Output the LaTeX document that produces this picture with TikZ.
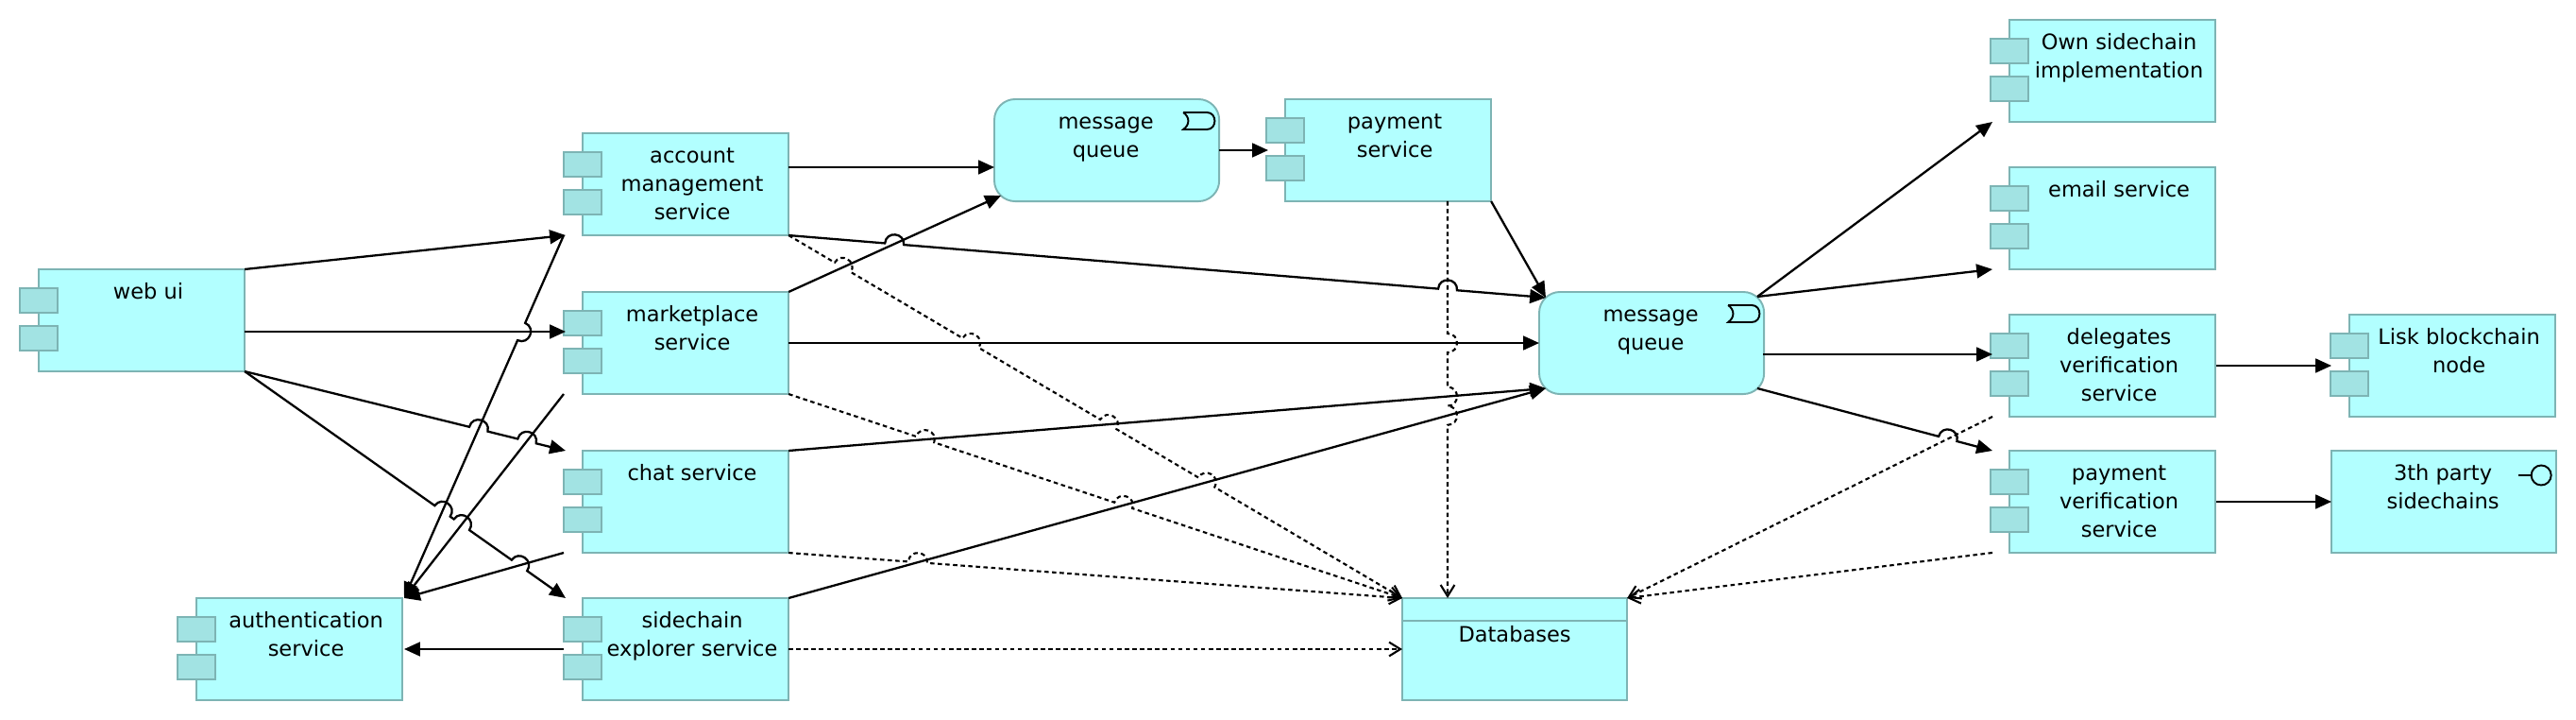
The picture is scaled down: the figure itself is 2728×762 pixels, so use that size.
\documentclass[tikz,border=0pt]{standalone}
\usepackage{fontspec}
\setmainfont{DejaVu Sans}
\usetikzlibrary{arrows.meta,calc}

\definecolor{bodycol}{HTML}{B2FFFF}
\definecolor{tabcol}{HTML}{A2E3E3}
\definecolor{edgecol}{HTML}{7DB4B4}

\tikzset{
	body/.style={draw=edgecol, fill=bodycol, line width=0.55pt, minimum width=2.18cm, minimum height=1.08cm, outer sep=0pt, inner sep=0pt, anchor=north west},
	comptab/.style={draw=edgecol, fill=tabcol, line width=0.55pt, minimum width=0.4cm, minimum height=0.26cm, outer sep=0pt, inner sep=0pt, anchor=north west},
	boxtext/.style={font=\fontsize{6.4}{8.5}\selectfont, align=center, anchor=north, inner sep=0pt},
	icon/.style={draw=black, line width=0.55pt},
	conn/.style={draw=black, line width=0.65pt, -{Triangle[length=4.8pt,width=4.2pt]}},
	dep/.style={draw=black, line width=0.6pt, dash pattern=on 1.3pt off 1pt, -{Straight Barb[length=3.4pt,width=4.2pt]}}
}

\newcommand{\hopr}{0.1cm}
\newcommand{\hoph}{0.133cm}

% line from #2 to #3 that hops over others at the fractions #4
\newcommand{\hopline}[4]{
	\draw[#1] (#2) \foreach \hopat in {#4} {
		-- ($(#2)!\hopat!(#3)!-\hopr!(#3)$)
		.. controls ($(#2)!\hopat!(#3)!-\hopr!(#3)!\hoph!90:(#3)$) and ($(#2)!\hopat!(#3)!\hopr!(#3)!\hoph!90:(#3)$)
		.. ($(#2)!\hopat!(#3)!\hopr!(#3)$)
	} -- (#3);
}

% name, left, top, text
\newcommand{\component}[4]{
	\node[body] (#1) at (#2,#3) {};
	\node[comptab] (#1 taba) at ($(#1.north west)+(-20,20)$) {};
	\node[comptab] (#1 tabb) at ($(#1.north west)+(-20,60)$) {};
	\node[boxtext] (#1 text) at ($(#1.north)+(7,10)$) {\rule{0pt}{6pt}#4};
}

% name, left, top, text
\newcommand{\queue}[4]{
	\node[body, rounded corners=0.22cm, minimum width=2.38cm] (#1) at (#2,#3) {};
	\node[boxtext] (#1 text) at ($(#1.north)+(-1,10)$) {\rule{0pt}{6pt}#4};
	\draw[icon, shift={(#1.north east)}] (-38,14) -- (-13,14) .. controls (-2,14) and (-2,32) .. (-13,32) -- (-38,32) .. controls (-31,27) and (-31,19) .. (-38,14);
}

\begin{document}
\begin{tikzpicture}[x=0.01cm, y=-0.01cm]
	\useasboundingbox (0,0) rectangle (2728,762);

	\component{webui}{41}{285}{web ui}
	\component{account}{617}{141}{account\\management\\service}
	\component{market}{617}{309}{marketplace\\service}
	\component{chat}{617}{477}{chat service}
	\component{sidechain}{617}{633}{sidechain\\explorer service}
	\component{auth}{208}{633}{authentication\\service}
	\component{payment}{1361}{105}{payment\\service}
	\component{own}{2128}{21}{Own sidechain\\implementation}
	\component{email}{2128}{177}{email service}
	\component{delegates}{2128}{333}{delegates\\verification\\service}
	\component{payverify}{2128}{477}{payment\\verification\\service}
	\component{lisk}{2488}{333}{Lisk blockchain\\node}

	\queue{mqa}{1053}{105}{message\\queue}
	\queue{mqb}{1630}{309}{message\\queue}

	\node[body, minimum width=2.38cm] (party) at (2469,477) {};
	\node[boxtext] (party text) at ($(party.north)+(-1,10)$) {\rule{0pt}{6pt}3th party\\sidechains};
	\draw[icon, shift={(party.north east)}] (-40,26) -- (-26,26) (-16,26) circle[radius=0.105cm];

	\node[body, minimum width=2.38cm] (db) at (1485,633) {};
	\draw[draw=edgecol, line width=0.55pt] ($(db.north west)+(0,24)$) coordinate (db l) -- (db l -| db.east);
	\node[boxtext] (db text) at ($(db.north)+(0,25)$) {\rule{0pt}{6pt}Databases};

	% free ends beside the boxes
	\coordinate (web a) at (259,351);
	\coordinate (account in) at (599,249);
	\coordinate (market in) at (599,351);
	\coordinate (chat in) at (599,477);
	\coordinate (side in) at (599,633);
	\coordinate (account back) at (597,249);
	\coordinate (market back) at (597,417);
	\coordinate (chat back) at (597,585);
	\coordinate (side back) at (597,687);
	\coordinate (auth a) at (428,633);
	\coordinate (auth b) at (428,687);
	\coordinate (account a) at (835,177);
	\coordinate (mqa a) at (1053,177);
	\coordinate (mqa b) at (1060,207);
	\coordinate (mqa out) at (1291,159);
	\coordinate (payment in) at (1343,159);
	\coordinate (mqb a) at (1637,315);
	\coordinate (mqb b) at (1637,411);
	\coordinate (mqb c) at (1861,314);
	\coordinate (mqb d) at (1861,411);
	\coordinate (mqb e) at (1867,375);
	\coordinate (own in) at (2110,129);
	\coordinate (email in) at (2110,285);
	\coordinate (delegates in) at (2110,375);
	\coordinate (payverify in) at (2110,477);
	\coordinate (delegates a) at (2347,387);
	\coordinate (lisk in) at (2469,387);
	\coordinate (payverify a) at (2347,531);
	\coordinate (party in) at (2469,531);
	\coordinate (payment dep) at (1533,213);
	\coordinate (db in) at (1533,633);
	\coordinate (delegates dep) at (2110,441);
	\coordinate (payverify dep) at (2110,585);

	\draw[conn] (webui.north east) -- (account in);
	\draw[conn] (web a) -- (market in);
	\hopline{conn}{webui.south east}{chat in}{0.7286,0.8794} % jumps over the two lines to auth
	\hopline{conn}{webui.south east}{side in}{0.6162,0.6759,0.8559}

	\hopline{conn}{account back}{auth a}{0.2656}
	\draw[conn] (market back) -- (auth a);
	\draw[conn] (chat back) -- (auth a);
	\draw[conn] (side back) -- (auth b);

	\draw[conn] (account a) -- (mqa a);
	\draw[conn] (market.north east) -- (mqa b);
	\draw[conn] (mqa out) -- (payment in);
	\hopline{conn}{account.south east}{mqb a}{0.1397,0.8703}
	\draw[conn] (payment.south east) -- (mqb a);
	\draw[conn] (market.east) -- (mqb.west);
	\draw[conn] (chat.north east) -- (mqb b);
	\draw[conn] (sidechain.north east) -- (mqb b);

	\draw[conn] (mqb c) -- (own in);
	\draw[conn] (mqb c) -- (email in);
	\draw[conn] (mqb e) -- (delegates in);
	\hopline{conn}{mqb d}{payverify in}{0.81}
	\draw[conn] (delegates a) -- (lisk in);
	\draw[conn] (payverify a) -- (party in);

	\hopline{dep}{account.south east}{db.north west}{0.0883,0.2968,0.5211,0.681} % dotted ones to db
	\hopline{dep}{market.south east}{db.north west}{0.2226,0.5456}
	\hopline{dep}{chat.south east}{db.north west}{0.2106}
	\hopline{dep}{payment dep}{db in}{0.3571,0.4919,0.54}
	\draw[dep] (sidechain.east) -- (db.west);
	\draw[dep] (delegates dep) -- (db.north east);
	\draw[dep] (payverify dep) -- (db.north east);
\end{tikzpicture}
\end{document}
